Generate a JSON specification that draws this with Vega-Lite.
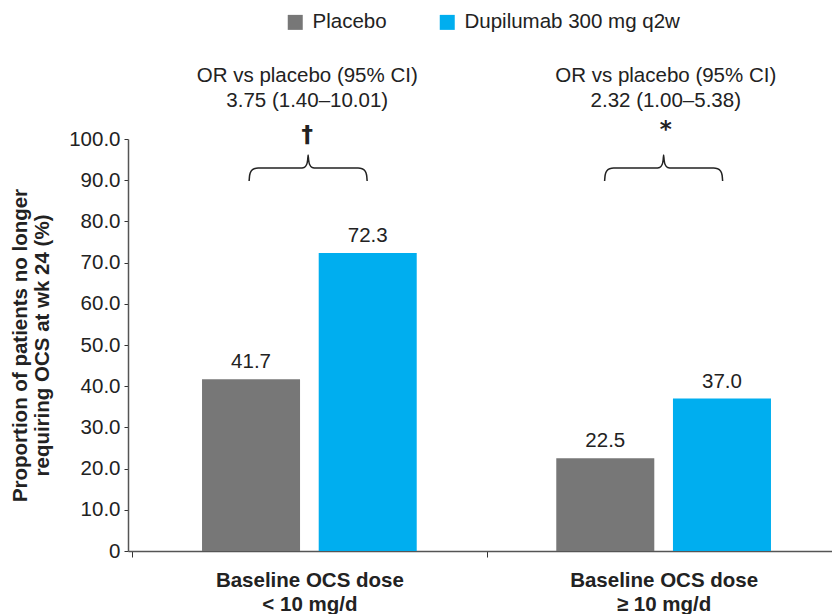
{
  "$schema": "https://vega.github.io/schema/vega-lite/v6.json",
  "autosize": {"type": "none"},
  "padding": {"left": 128, "top": 139, "right": 0, "bottom": 63},
  "width": 704,
  "height": 412,
  "background": "white",
  "config": {
    "font": "Liberation Sans",
    "view": {"stroke": null},
    "axis": {"labelColor": "#222", "titleColor": "#222", "labelFont": "Liberation Sans", "titleFont": "Liberation Sans"},
    "text": {"font": "Liberation Sans", "color": "#222"}
  },
  "datasets": {
    "bars": [
      {"dose": "Baseline OCS dose|< 10 mg/d", "treatment": "Placebo", "pct": 41.7},
      {"dose": "Baseline OCS dose|< 10 mg/d", "treatment": "Dupilumab 300 mg q2w", "pct": 72.3},
      {"dose": "Baseline OCS dose|≥ 10 mg/d", "treatment": "Placebo", "pct": 22.5},
      {"dose": "Baseline OCS dose|≥ 10 mg/d", "treatment": "Dupilumab 300 mg q2w", "pct": 37.0}
    ],
    "ann": [
      {"dose": "Baseline OCS dose|< 10 mg/d", "text": "OR vs placebo (95% CI)", "y": 115.3},
      {"dose": "Baseline OCS dose|< 10 mg/d", "text": "3.75 (1.40–10.01)", "y": 109.2},
      {"dose": "Baseline OCS dose|≥ 10 mg/d", "text": "OR vs placebo (95% CI)", "y": 115.3},
      {"dose": "Baseline OCS dose|≥ 10 mg/d", "text": "2.32 (1.00–5.38)", "y": 109.2}
    ],
    "sig": [
      {"dose": "Baseline OCS dose|< 10 mg/d", "text": "†", "y": 100.9},
      {"dose": "Baseline OCS dose|≥ 10 mg/d", "text": "*", "y": 102.2}
    ],
    "brace": [
      {"g": "A", "o": 0, "x": 0.3299, "y": 89.8},
      {"g": "A", "o": 1, "x": 0.3314, "y": 91.2},
      {"g": "A", "o": 2, "x": 0.3356, "y": 92.2},
      {"g": "A", "o": 3, "x": 0.3441, "y": 92.8},
      {"g": "A", "o": 4, "x": 0.3554, "y": 92.95},
      {"g": "A", "o": 5, "x": 0.4739, "y": 92.95},
      {"g": "A", "o": 6, "x": 0.4852, "y": 93.1},
      {"g": "A", "o": 7, "x": 0.4923, "y": 93.8},
      {"g": "A", "o": 8, "x": 0.4951, "y": 94.9},
      {"g": "A", "o": 9, "x": 0.4965, "y": 96.1},
      {"g": "A", "o": 10, "x": 0.4979, "y": 94.9},
      {"g": "A", "o": 11, "x": 0.5007, "y": 93.8},
      {"g": "A", "o": 12, "x": 0.5078, "y": 93.1},
      {"g": "A", "o": 13, "x": 0.5191, "y": 92.95},
      {"g": "A", "o": 14, "x": 0.6376, "y": 92.95},
      {"g": "A", "o": 15, "x": 0.6489, "y": 92.8},
      {"g": "A", "o": 16, "x": 0.6574, "y": 92.2},
      {"g": "A", "o": 17, "x": 0.6616, "y": 91.2},
      {"g": "A", "o": 18, "x": 0.6631, "y": 89.8},
      {"g": "B", "o": 0, "x": 1.3334, "y": 89.8},
      {"g": "B", "o": 1, "x": 1.3349, "y": 91.2},
      {"g": "B", "o": 2, "x": 1.3391, "y": 92.2},
      {"g": "B", "o": 3, "x": 1.3476, "y": 92.8},
      {"g": "B", "o": 4, "x": 1.3589, "y": 92.95},
      {"g": "B", "o": 5, "x": 1.4774, "y": 92.95},
      {"g": "B", "o": 6, "x": 1.4887, "y": 93.1},
      {"g": "B", "o": 7, "x": 1.4958, "y": 93.8},
      {"g": "B", "o": 8, "x": 1.4986, "y": 94.9},
      {"g": "B", "o": 9, "x": 1.5, "y": 96.1},
      {"g": "B", "o": 10, "x": 1.5014, "y": 94.9},
      {"g": "B", "o": 11, "x": 1.5042, "y": 93.8},
      {"g": "B", "o": 12, "x": 1.5113, "y": 93.1},
      {"g": "B", "o": 13, "x": 1.5226, "y": 92.95},
      {"g": "B", "o": 14, "x": 1.6411, "y": 92.95},
      {"g": "B", "o": 15, "x": 1.6524, "y": 92.8},
      {"g": "B", "o": 16, "x": 1.6609, "y": 92.2},
      {"g": "B", "o": 17, "x": 1.6651, "y": 91.2},
      {"g": "B", "o": 18, "x": 1.6666, "y": 89.8}
    ]
  },
  "layer": [
    {
      "data": {"name": "bars"},
      "mark": {"type": "bar"},
      "encoding": {
        "x": {
          "field": "dose", "type": "nominal", "sort": null,
          "scale": {"range": [0, 717], "paddingInner": 0, "paddingOuter": 0.012},
          "axis": {
            "title": null,
            "labelExpr": "split(datum.label, '|')",
            "labelAngle": 0,
            "labelFontSize": 20.5,
            "labelFontWeight": "bold",
            "labelLineHeight": 24,
            "labelPadding": 13,
            "labelLimit": 400,
            "tickBand": "extent",
            "tickSize": 6,
            "tickColor": "#333",
            "domainColor": "#555",
            "domainWidth": 1.5
          }
        },
        "xOffset": {
          "field": "treatment", "type": "nominal",
          "sort": ["Placebo", "Dupilumab 300 mg q2w"],
          "scale": {"paddingInner": 0.16, "paddingOuter": 0.598}
        },
        "y": {
          "field": "pct", "type": "quantitative",
          "scale": {"domain": [0, 100], "nice": false},
          "axis": {
            "title": ["Proportion of patients no longer", "requiring OCS at wk 24 (%)"],
            "titleFontSize": 20.5,
            "titleFontWeight": "bold",
            "titleLineHeight": 22,
            "titleX": -98,
            "titleY": 206,
            "titleBaseline": "bottom",
            "values": [0, 10, 20, 30, 40, 50, 60, 70, 80, 90, 100],
            "labelExpr": "datum.value == 0 ? '0' : format(datum.value, '.1f')",
            "labelFontSize": 20.5,
            "labelPadding": 4,
            "tickSize": 4,
            "tickColor": "#333",
            "domainColor": "#555",
            "domainWidth": 1.5,
            "grid": false
          }
        },
        "color": {
          "field": "treatment", "type": "nominal",
          "sort": ["Placebo", "Dupilumab 300 mg q2w"],
          "scale": {"range": ["#777777", "#00AEEF"]},
          "legend": {
            "title": null,
            "orient": "none",
            "direction": "horizontal",
            "legendX": 157,
            "legendY": -127,
            "symbolType": "square",
            "symbolSize": 225,
            "symbolStrokeWidth": 0,
            "labelFontSize": 20.5,
            "labelColor": "#222",
            "labelOffset": 7,
            "labelLimit": 400,
            "columnPadding": 50
          }
        }
      }
    },
    {
      "data": {"name": "bars"},
      "mark": {"type": "text", "dy": -11, "baseline": "alphabetic", "fontSize": 20.5},
      "encoding": {
        "x": {"field": "dose", "type": "nominal", "sort": null, "scale": {"range": [0, 717], "paddingInner": 0, "paddingOuter": 0.012}, "axis": null},
        "xOffset": {"field": "treatment", "type": "nominal", "sort": ["Placebo", "Dupilumab 300 mg q2w"], "scale": {"paddingInner": 0.16, "paddingOuter": 0.598}},
        "y": {"field": "pct", "type": "quantitative", "scale": {"domain": [0, 100], "nice": false}},
        "text": {"field": "pct", "type": "quantitative", "format": ".1f"}
      }
    },
    {
      "data": {"name": "ann"},
      "mark": {"type": "text", "baseline": "middle", "fontSize": 20.5},
      "encoding": {
        "x": {"field": "dose", "type": "nominal", "sort": null, "scale": {"range": [0, 717], "paddingInner": 0, "paddingOuter": 0.012}, "axis": null},
        "y": {"field": "y", "type": "quantitative", "scale": {"domain": [0, 100], "nice": false}},
        "text": {"field": "text"}
      }
    },
    {
      "data": {"name": "sig"},
      "mark": {"type": "text", "baseline": "middle", "fontSize": 23, "fontWeight": "bold", "font": "DejaVu Sans"},
      "encoding": {
        "x": {"field": "dose", "type": "nominal", "sort": null, "scale": {"range": [0, 717], "paddingInner": 0, "paddingOuter": 0.012}, "axis": null},
        "y": {"field": "y", "type": "quantitative", "scale": {"domain": [0, 100], "nice": false}},
        "text": {"field": "text"}
      }
    },
    {
      "data": {"name": "brace"},
      "mark": {"type": "line", "color": "#222", "strokeWidth": 1.5, "interpolate": "monotone"},
      "encoding": {
        "x": {"field": "x", "type": "quantitative", "scale": {"domain": [-0.012, 2.012], "range": [0, 717], "nice": false, "zero": false}, "axis": null},
        "y": {"field": "y", "type": "quantitative", "scale": {"domain": [0, 100], "nice": false}},
        "detail": {"field": "g"},
        "order": {"field": "o", "type": "quantitative"}
      }
    }
  ],
  "resolve": {"scale": {"x": "independent"}}
}
